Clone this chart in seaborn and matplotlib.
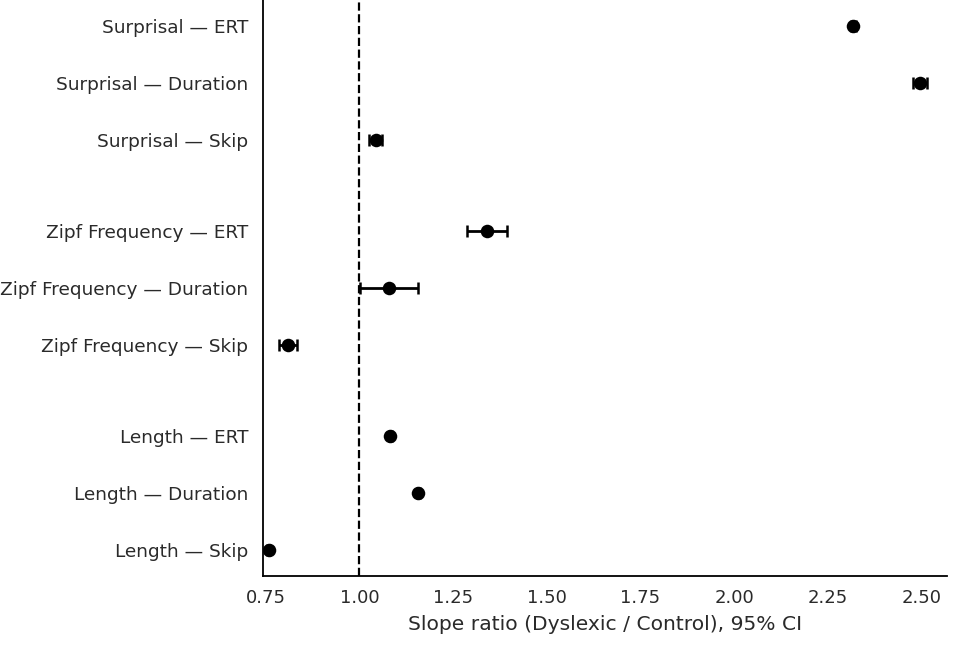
import matplotlib
matplotlib.use("Agg")
import matplotlib.pyplot as plt
import numpy as np
import pandas as pd
import seaborn as sns

labels = ["Surprisal — ERT", "Surprisal — Duration", "Surprisal — Skip",
          "Zipf Frequency — ERT", "Zipf Frequency — Duration", "Zipf Frequency — Skip",
          "Length — ERT", "Length — Duration", "Length — Skip"]
ratio = [2.318, 2.497, 1.045, 1.342, 1.080, 0.810, 1.083, 1.157, 0.758]
ci_lo = [2.312, 2.476, 1.027, 1.288, 1.003, 0.786, 1.080, 1.153, 0.755]
ci_hi = [2.324, 2.516, 1.061, 1.395, 1.157, 0.834, 1.086, 1.161, 0.761]
ypos = [0, 1, 2, 3.6, 4.6, 5.6, 7.2, 8.2, 9.2]

df = pd.DataFrame({"label": labels, "ratio": ratio, "lo": ci_lo, "hi": ci_hi, "y": ypos})

sns.set_style("white")
plt.rcParams["font.family"] = ["DejaVu Sans"]

fig = plt.figure(figsize=(9.62, 6.51), dpi=100)
ax = fig.add_axes([0.273, 0.115, 0.711, 0.885])

ax.errorbar(df["ratio"], df["y"],
            xerr=[df["ratio"] - df["lo"], df["hi"] - df["ratio"]],
            fmt="none", ecolor="black", elinewidth=2, capsize=4, capthick=1.8, zorder=2)
sns.scatterplot(data=df, x="ratio", y="y", color="black", s=95, edgecolor="black",
                linewidth=0, zorder=3, ax=ax)
ax.axvline(1.0, color="black", linestyle="--", linewidth=1.6, zorder=1)

ax.set_yticks(ypos)
ax.set_yticklabels(labels, fontsize=13.3)
ax.set_xticks([0.75, 1.0, 1.25, 1.5, 1.75, 2.0, 2.25, 2.5])
ax.set_xticklabels(["0.75", "1.00", "1.25", "1.50", "1.75", "2.00", "2.25", "2.50"], fontsize=13)
ax.set_xlim(0.742, 2.567)
ax.set_ylim(9.656, -0.456)
ax.set_xlabel("Slope ratio (Dyslexic / Control), 95% CI", fontsize=14.6, labelpad=6)
ax.set_ylabel("")
ax.tick_params(axis="y", length=0, pad=10.5, colors="#2a2a2a")
ax.tick_params(axis="x", length=0, pad=9, colors="#2a2a2a")
ax.xaxis.label.set_color("#2a2a2a")
sns.despine(ax=ax)
for s in ["left", "bottom"]:
    ax.spines[s].set_color("black")
    ax.spines[s].set_linewidth(1.3)

fig.savefig("out.png", dpi=100)
